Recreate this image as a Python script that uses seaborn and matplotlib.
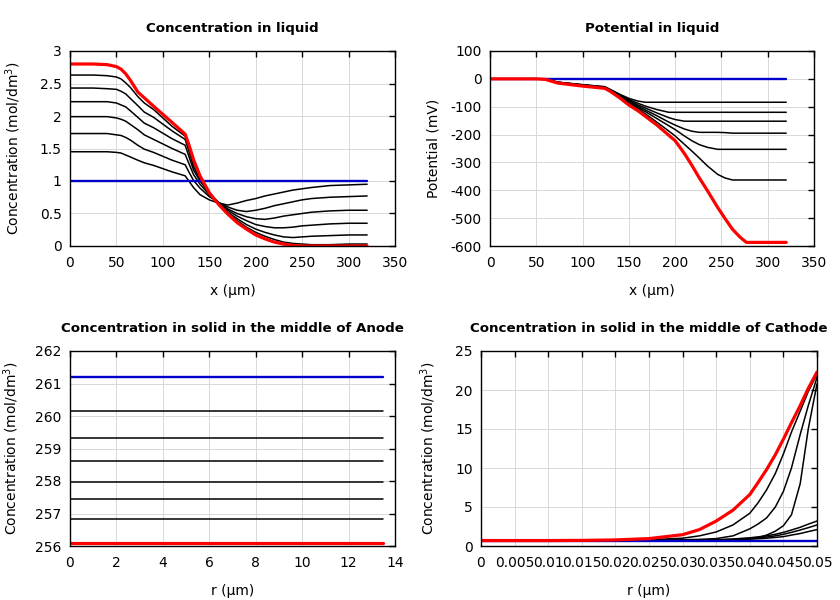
import matplotlib
matplotlib.use("Agg")
import matplotlib.pyplot as plt
import matplotlib.ticker as mticker
import seaborn as sns

# ---- data ----
# liquid concentration vs x (um)
liq_x = [0, 25, 40, 50, 55, 60, 65, 73, 80, 90, 110, 124, 128, 133, 140, 150,
         160, 170, 180, 190, 200, 210, 220, 230, 240, 250, 260, 280, 300, 320]
liq_conc_start = [1.0] * len(liq_x)
liq_conc_mid = [
    [1.45, 1.45, 1.45, 1.44, 1.43, 1.40, 1.37, 1.32, 1.28, 1.24, 1.14, 1.08, 1.00,
     0.90, 0.79, 0.71, 0.66, 0.63, 0.66, 0.70, 0.73, 0.77, 0.80, 0.83, 0.86, 0.88,
     0.90, 0.93, 0.94, 0.95],
    [1.73, 1.73, 1.73, 1.71, 1.70, 1.67, 1.63, 1.55, 1.49, 1.44, 1.32, 1.25, 1.14,
     1.01, 0.89, 0.76, 0.67, 0.60, 0.55, 0.53, 0.55, 0.58, 0.62, 0.65, 0.68, 0.71,
     0.73, 0.75, 0.76, 0.77],
    [1.99, 1.99, 1.99, 1.97, 1.95, 1.92, 1.87, 1.79, 1.71, 1.64, 1.50, 1.41, 1.27,
     1.10, 0.95, 0.79, 0.67, 0.57, 0.50, 0.45, 0.42, 0.41, 0.43, 0.46, 0.48, 0.50,
     0.52, 0.54, 0.55, 0.55],
    [2.22, 2.22, 2.22, 2.20, 2.17, 2.14, 2.08, 1.98, 1.89, 1.82, 1.65, 1.55, 1.38,
     1.17, 1.00, 0.81, 0.67, 0.55, 0.46, 0.39, 0.33, 0.30, 0.28, 0.28, 0.29, 0.31,
     0.32, 0.34, 0.35, 0.35],
    [2.43, 2.43, 2.42, 2.41, 2.38, 2.34, 2.27, 2.16, 2.06, 1.98, 1.77, 1.64, 1.46,
     1.22, 1.03, 0.82, 0.66, 0.52, 0.42, 0.33, 0.26, 0.21, 0.17, 0.14, 0.13, 0.14,
     0.15, 0.16, 0.17, 0.17],
    [2.63, 2.63, 2.62, 2.60, 2.57, 2.51, 2.44, 2.30, 2.20, 2.10, 1.84, 1.69, 1.52,
     1.28, 1.06, 0.83, 0.65, 0.50, 0.39, 0.29, 0.21, 0.15, 0.10, 0.06, 0.04, 0.03,
     0.02, 0.02, 0.03, 0.03],
]
liq_conc_end = [2.80, 2.80, 2.79, 2.76, 2.72, 2.65, 2.55, 2.37, 2.28, 2.15, 1.90,
                1.72, 1.56, 1.33, 1.08, 0.82, 0.64, 0.49, 0.36, 0.26, 0.17, 0.11,
                0.06, 0.03, 0.01, 0.0, 0.0, 0.0, 0.0, 0.0]

# liquid potential vs x (um)
pot_x = [0, 25, 50, 60, 73, 100, 124, 130, 140, 150, 160, 168, 180, 193, 200,
         210, 218, 226, 235, 246, 254, 262, 270, 277, 300, 320]
pot_start = [0.0] * len(pot_x)
pot_mid = [
    [0, 0, 0, -1, -12, -21, -28, -38, -55, -70, -80, -84, -84, -84, -84,
     -84, -84, -84, -84, -84, -84, -84, -84, -84, -84, -84],
    [0, 0, 0, -1, -12, -21, -29, -40, -57, -74, -88, -98, -110, -120, -120,
     -120, -120, -120, -120, -120, -120, -120, -120, -120, -120, -120],
    [0, 0, 0, -1, -12, -22, -30, -41, -59, -78, -94, -105, -122, -139, -146,
     -152, -152, -152, -152, -152, -152, -152, -152, -152, -152, -152],
    [0, 0, 0, -1, -13, -23, -31, -42, -61, -82, -99, -112, -132, -155, -166,
     -180, -188, -192, -192, -192, -193, -195, -195, -195, -195, -195],
    [0, 0, 0, -1, -13, -23, -32, -43, -63, -86, -104, -118, -142, -168, -182,
     -205, -222, -236, -246, -253, -253, -253, -253, -253, -253, -253],
    [0, 0, 0, -1, -14, -24, -33, -44, -65, -90, -109, -126, -155, -187, -205,
     -235, -259, -284, -313, -343, -356, -363, -363, -363, -363, -363],
]
pot_end = [0, 0, 0, -2, -15, -26, -34, -45, -68, -94, -115, -135, -165, -202,
           -222, -268, -310, -355, -402, -462, -502, -540, -568, -587, -587, -587]

# anode solid concentration vs r (um)
anode_r = [0, 13.5]
anode_start = 261.19
anode_mid = [260.15, 259.31, 258.62, 257.98, 257.44, 256.82]
anode_end = 256.08

# cathode solid concentration vs r (um)
cath_r = [0, 0.005, 0.01, 0.015, 0.02, 0.025, 0.03, 0.0325, 0.035, 0.0375,
          0.04, 0.0412, 0.0425, 0.0438, 0.045, 0.0462, 0.0475, 0.0487, 0.05]
cath_start = [0.7] * len(cath_r)
cath_mid = [
    [0.7, 0.7, 0.7, 0.7, 0.7, 0.7, 0.7, 0.7, 0.75, 0.8, 0.88, 0.93, 1.0, 1.1,
     1.2, 1.4, 1.6, 1.85, 2.1],
    [0.7, 0.7, 0.7, 0.7, 0.7, 0.7, 0.7, 0.72, 0.78, 0.85, 0.98, 1.06, 1.15, 1.3,
     1.5, 1.75, 2.05, 2.35, 2.7],
    [0.7, 0.7, 0.7, 0.7, 0.7, 0.7, 0.72, 0.75, 0.8, 0.9, 1.05, 1.17, 1.3, 1.5,
     1.75, 2.05, 2.4, 2.8, 3.2],
    [0.7, 0.7, 0.7, 0.7, 0.7, 0.7, 0.7, 0.72, 0.75, 0.8, 0.9, 1.05, 1.4, 1.9,
     2.6, 4.0, 8.0, 15.0, 20.8],
    [0.7, 0.7, 0.7, 0.7, 0.7, 0.72, 0.8, 0.85, 0.95, 1.3, 2.2, 2.8, 3.6, 5.0,
     7.0, 10.0, 14.3, 18.0, 21.6],
    [0.7, 0.7, 0.7, 0.7, 0.72, 0.8, 1.0, 1.3, 1.8, 2.7, 4.2, 5.5, 7.2, 9.3,
     11.8, 14.6, 17.3, 19.8, 22.0],
]
cath_end = [0.7, 0.7, 0.7, 0.72, 0.78, 0.95, 1.45, 2.1, 3.2, 4.6, 6.6, 8.1, 9.8,
            11.7, 13.7, 15.8, 18.0, 20.2, 22.3]

# ---- style ----
sns.set_theme(style="whitegrid")
plt.rcParams.update({
    "font.family": ["DejaVu Sans"],
    "font.size": 10,
    "text.color": "black",
    "axes.labelcolor": "black",
    "axes.labelsize": 10,
    "axes.titlesize": 9.6,
    "axes.edgecolor": "black",
    "axes.linewidth": 1.0,
    "grid.color": "#d8d8d8",
    "grid.linewidth": 0.7,
    "xtick.direction": "in",
    "ytick.direction": "in",
    "xtick.top": True,
    "ytick.right": True,
    "xtick.major.size": 4,
    "ytick.major.size": 4,
    "xtick.major.width": 1.0,
    "ytick.major.width": 1.0,
    "xtick.color": "black",
    "ytick.color": "black",
    "xtick.labelsize": 10,
    "ytick.labelsize": 10,
    "xtick.major.pad": 7,
    "ytick.major.pad": 6,
})

BLACK_LW, BLUE_LW, RED_LW = 1.1, 1.7, 2.3
BLUE, RED = "#0000c8", "#ff0000"

fig = plt.figure(figsize=(8.4, 6.0), dpi=100)
ax1 = fig.add_axes([70 / 840, 1 - 246 / 600, 325 / 840, 195 / 600])
ax2 = fig.add_axes([490 / 840, 1 - 246 / 600, 324 / 840, 195 / 600])
ax3 = fig.add_axes([70 / 840, 1 - 546 / 600, 325 / 840, 195 / 600])
ax4 = fig.add_axes([481 / 840, 1 - 546 / 600, 336 / 840, 195 / 600])


def draw(ax, x, start, mids, end):
    for m in mids:
        sns.lineplot(x=x, y=m, ax=ax, color="black", lw=BLACK_LW, sort=False)
    sns.lineplot(x=x, y=start, ax=ax, color=BLUE, lw=BLUE_LW, sort=False)
    sns.lineplot(x=x, y=end, ax=ax, color=RED, lw=RED_LW, sort=False)


draw(ax1, liq_x, liq_conc_start, liq_conc_mid, liq_conc_end)
draw(ax2, pot_x, pot_start, pot_mid, pot_end)
draw(ax3, anode_r, [anode_start] * 2, [[v, v] for v in anode_mid], [anode_end] * 2)
draw(ax4, cath_r, cath_start, cath_mid, cath_end)

conc_label = "Concentration (mol/dm$^3$)"
ax1.set(xlim=(0, 350), ylim=(0, 3))
ax1.set_title("Concentration in liquid", fontweight="bold", pad=14)
ax1.set_xlabel("x (µm)", labelpad=10)
ax1.set_ylabel(conc_label, labelpad=12)
ax1.xaxis.set_major_locator(mticker.MultipleLocator(50))
ax1.yaxis.set_major_locator(mticker.MultipleLocator(0.5))

ax2.set(xlim=(0, 350), ylim=(-600, 100))
ax2.set_title("Potential in liquid", fontweight="bold", pad=14)
ax2.set_xlabel("x (µm)", labelpad=10)
ax2.set_ylabel("Potential (mV)", labelpad=7)
ax2.xaxis.set_major_locator(mticker.MultipleLocator(50))
ax2.yaxis.set_major_locator(mticker.MultipleLocator(100))

ax3.set(xlim=(0, 14), ylim=(256, 262))
ax3.set_title("Concentration in solid in the middle of Anode",
              fontweight="bold", pad=14)
ax3.set_xlabel("r (µm)", labelpad=10)
ax3.set_ylabel(conc_label, labelpad=10)
ax3.xaxis.set_major_locator(mticker.MultipleLocator(2))
ax3.yaxis.set_major_locator(mticker.MultipleLocator(1))

ax4.set(xlim=(0, 0.05), ylim=(0, 25))
ax4.set_title("Concentration in solid in the middle of Cathode",
              fontweight="bold", pad=14)
ax4.set_xlabel("r (µm)", labelpad=10)
ax4.set_ylabel(conc_label, labelpad=12)
ax4.xaxis.set_major_locator(mticker.MultipleLocator(0.005))
ax4.yaxis.set_major_locator(mticker.MultipleLocator(5))

for ax in (ax1, ax2, ax3, ax4):
    ax.xaxis.set_major_formatter(mticker.FormatStrFormatter("%g"))
    ax.yaxis.set_major_formatter(mticker.FormatStrFormatter("%g"))
    ax.grid(True)
    for s in ax.spines.values():
        s.set_visible(True)
        s.set_color("black")

fig.savefig("out.png", dpi=100)
